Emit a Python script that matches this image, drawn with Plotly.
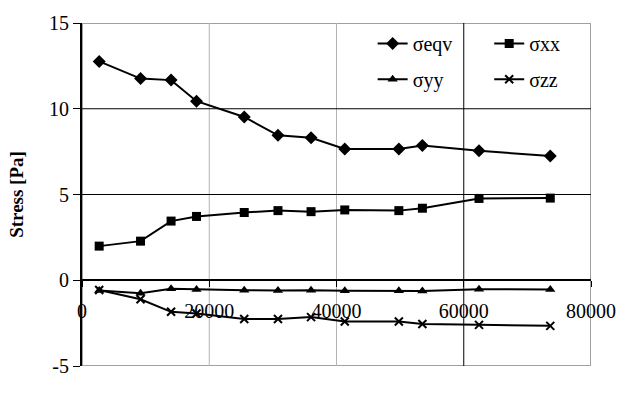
import plotly.graph_objects as go

x_vals = [2700, 9200, 14000, 18000, 25500, 30800, 36000, 41300, 49800, 53500, 62400, 73600]
s_eqv = [12.76, 11.76, 11.67, 10.44, 9.52, 8.45, 8.31, 7.66, 7.66, 7.85, 7.55, 7.24]
s_xx = [1.99, 2.28, 3.45, 3.72, 3.95, 4.06, 4.0, 4.1, 4.06, 4.2, 4.77, 4.79]
s_yy = [-0.6, -0.76, -0.5, -0.54, -0.58, -0.6, -0.58, -0.61, -0.61, -0.63, -0.52, -0.54]
s_zz = [-0.57, -1.11, -1.84, -1.94, -2.26, -2.26, -2.15, -2.41, -2.41, -2.55, -2.6, -2.66]

x_ticks = [0, 20000, 40000, 60000, 80000]
y_ticks = [-5, 0, 5, 10, 15]

FONT = "Times New Roman, Liberation Serif, serif"
fig = go.Figure()

series = [
    ("σeqv", s_eqv, dict(symbol="diamond", size=10, color="black"), "legend", 0.571, 0.997),
    ("σxx", s_xx, dict(symbol="square", size=9, color="black"), "legend2", 0.80, 0.997),
    ("σyy", s_yy, dict(symbol="triangle-up", size=9, color="black"), "legend3", 0.571, 0.893),
    ("σzz", s_zz, dict(symbol="x-thin", size=8, color="black", line=dict(width=2, color="black")), "legend4", 0.80, 0.893),
]
legends = {}
for name, ys, mk, lg, lx, ly in series:
    fig.add_trace(go.Scatter(x=x_vals, y=ys, name=name, mode="lines+markers",
                             line=dict(color="black", width=2), marker=mk, legend=lg))
    legends[lg] = dict(x=lx, y=ly, font=dict(family=FONT, size=20, color="black"),
                       bgcolor="rgba(0,0,0,0)", xref="paper", yref="paper",
                       xanchor="left", yanchor="top", itemclick=False)

# plot border (gray) and gridlines
fig.add_shape(type="rect", xref="x", yref="y", x0=0, x1=80000, y0=-5, y1=15,
              line=dict(color="#a0a0a0", width=2), layer="below")
for gx, col in [(20000, "#b4b4b4"), (40000, "#b4b4b4"), (60000, "black")]:
    fig.add_shape(type="line", xref="x", yref="y", x0=gx, x1=gx, y0=-5, y1=15,
                  line=dict(color=col, width=1), layer="below")
for gy in [5, 10]:
    fig.add_shape(type="line", xref="x", yref="y", x0=0, x1=80000, y0=gy, y1=gy,
                  line=dict(color="black", width=1), layer="below")

# legend background area (white, hides the 60000 gridline)
fig.add_shape(type="rect", xref="paper", yref="paper", x0=0.51, x1=0.995, y0=0.79, y1=0.985,
              fillcolor="white", line=dict(width=0), layer="below")

fig.update_layout(
    width=628, height=396,
    margin=dict(l=82, r=29, t=18, b=30),
    paper_bgcolor="white", plot_bgcolor="white",
    font=dict(family=FONT, size=19, color="black"),
    showlegend=True,
    **legends,
    xaxis=dict(range=[0, 80000], tickvals=x_ticks, ticktext=[str(v) for v in x_ticks],
               showgrid=False, zeroline=False, anchor="free", position=0.25,
               showline=True, linecolor="black", linewidth=2,
               ticks="outside", ticklen=6, tickcolor="black", tickwidth=1,
               ticklabelstandoff=7, tickfont=dict(family=FONT, size=20, color="black")),
    yaxis=dict(range=[-5, 15], tickvals=y_ticks, ticktext=[str(v) for v in y_ticks],
               showgrid=False, zeroline=False,
               showline=True, linecolor="black", linewidth=2,
               ticks="outside", ticklen=7, tickcolor="black", tickwidth=1,
               tickfont=dict(family=FONT, size=20, color="black"),
               title=dict(text="<b>Stress [Pa]</b>", font=dict(family=FONT, size=19, color="black"), standoff=20)),
)

fig.write_html("out.html")
